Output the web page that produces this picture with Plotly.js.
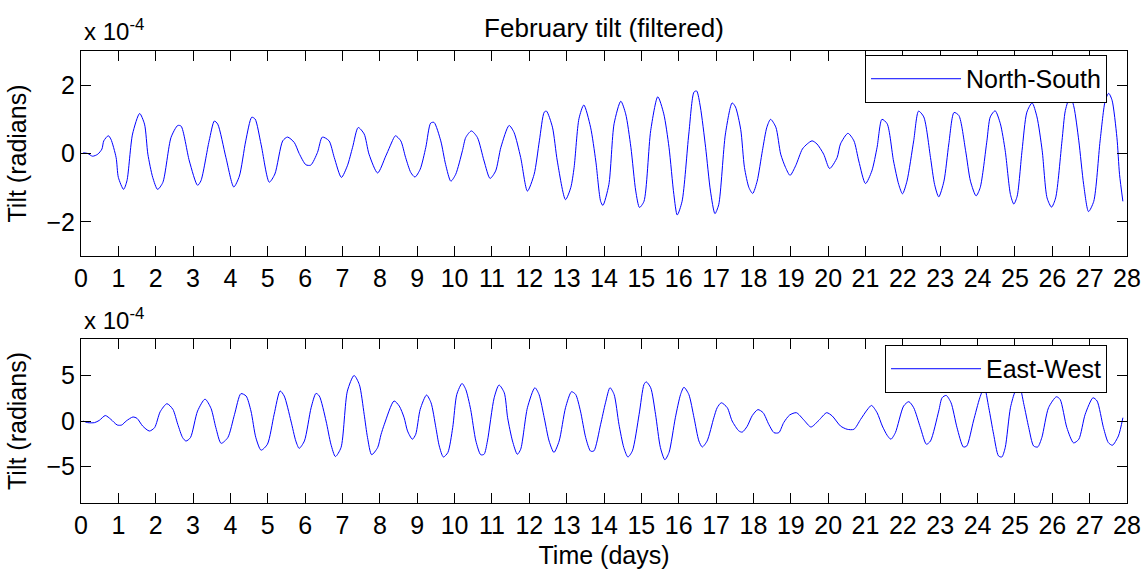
<!DOCTYPE html>
<html>
<head>
<meta charset="utf-8">
<script src="https://cdn.plot.ly/plotly-3.0.1.min.js"></script>
<style>
  html, body { margin: 0; padding: 0; background: #fff; }
  #chart { width: 1146px; height: 574px; }
</style>
</head>
<body>
<div id="chart"></div>
<script>
// Filtered tilt records for February, in units of 1e-4 radians.
const nsDays = [0.06,0.18,0.31,0.45,0.56,0.61,0.73,0.80,0.94,1.00,1.14,1.23,1.38,1.57,1.70,1.79,1.92,2.05,2.19,2.41,2.59,2.68,2.90,3.12,3.21,3.43,3.57,3.66,3.88,4.09,4.24,4.41,4.57,4.66,4.82,5.04,5.19,5.40,5.53,5.71,5.84,6.02,6.15,6.33,6.46,6.64,6.78,6.97,7.13,7.27,7.42,7.58,7.71,7.94,8.16,8.38,8.42,8.56,8.69,8.83,8.94,9.08,9.23,9.36,9.45,9.63,9.76,9.90,10.03,10.21,10.30,10.45,10.61,10.79,10.95,11.10,11.24,11.46,11.59,11.77,11.95,12.13,12.27,12.40,12.46,12.62,12.75,12.97,13.11,13.20,13.33,13.46,13.64,13.78,13.91,13.97,14.13,14.27,14.45,14.58,14.72,14.85,14.95,15.07,15.25,15.44,15.60,15.74,15.87,15.96,16.09,16.27,16.41,16.48,16.58,16.72,16.85,16.97,17.07,17.25,17.43,17.52,17.66,17.76,17.88,17.98,18.10,18.24,18.36,18.46,18.60,18.73,18.86,18.98,19.13,19.31,19.44,19.57,19.70,19.88,20.04,20.24,20.33,20.53,20.69,20.82,21.00,21.17,21.31,21.44,21.58,21.75,21.89,21.99,22.11,22.29,22.42,22.56,22.74,22.85,22.96,23.10,23.23,23.37,23.50,23.68,23.81,23.96,24.07,24.25,24.34,24.47,24.61,24.74,24.88,24.97,25.06,25.19,25.32,25.46,25.59,25.73,25.86,25.98,26.09,26.26,26.35,26.48,26.58,26.71,26.84,26.97,27.11,27.28,27.42,27.51,27.60,27.73,27.80,27.89];
const nsTilt = [0.02,0.00,-0.08,-0.02,0.13,0.37,0.52,0.42,-0.12,-0.70,-1.05,-0.80,0.57,1.17,0.86,-0.02,-0.70,-1.05,-0.85,0.47,0.82,0.80,-0.22,-0.93,-0.80,0.37,0.95,0.86,-0.12,-0.98,-0.66,0.37,1.06,1.01,0.27,-0.84,-0.60,0.37,0.48,0.32,0.00,-0.33,-0.34,0.03,0.48,0.37,-0.12,-0.70,-0.36,0.18,0.76,0.57,-0.02,-0.57,-0.07,0.47,0.52,0.37,-0.12,-0.56,-0.69,-0.46,0.18,0.89,0.91,0.37,-0.32,-0.81,-0.61,0.08,0.47,0.66,0.47,-0.22,-0.73,-0.51,0.18,0.82,0.62,-0.12,-1.10,-0.61,0.37,1.21,1.24,0.77,-0.22,-1.35,-1.00,-0.41,1.02,1.42,0.77,-0.22,-1.40,-1.52,-0.91,0.87,1.53,1.16,0.18,-1.10,-1.58,-1.40,0.67,1.66,1.16,0.18,-1.20,-1.80,-1.40,0.57,1.80,1.83,1.36,0.18,-1.10,-1.76,-1.50,0.57,1.48,1.36,0.70,-0.41,-1.00,-1.17,-0.81,0.08,0.77,1.00,0.77,-0.02,-0.41,-0.64,-0.36,0.13,0.28,0.37,0.28,-0.02,-0.44,-0.12,0.28,0.59,0.37,-0.22,-0.88,-0.51,0.18,1.00,0.87,-0.22,-0.91,-1.18,-0.81,0.37,1.24,1.07,-0.12,-0.91,-1.27,-0.81,0.28,1.20,1.11,0.08,-0.81,-1.24,-1.00,0.37,1.07,1.25,0.87,0.08,-1.20,-1.48,-1.25,0.08,1.21,1.48,1.07,0.08,-1.30,-1.57,-1.30,0.37,1.26,1.68,1.36,0.37,-0.91,-1.70,-1.40,0.37,1.56,1.76,1.56,0.47,-0.61,-1.40];

const ewDays = [0.06,0.18,0.36,0.49,0.65,0.80,0.97,1.09,1.21,1.39,1.50,1.65,1.83,1.97,2.12,2.30,2.46,2.59,2.72,2.81,2.93,3.12,3.32,3.48,3.61,3.75,3.93,4.11,4.28,4.42,4.55,4.68,4.82,4.99,5.17,5.33,5.44,5.62,5.75,5.84,5.98,6.16,6.29,6.38,6.56,6.69,6.81,6.96,7.13,7.31,7.45,7.58,7.67,7.78,7.94,8.03,8.12,8.38,8.52,8.65,8.74,8.87,8.96,9.08,9.25,9.37,9.50,9.59,9.70,9.82,9.95,10.06,10.20,10.30,10.43,10.57,10.70,10.79,10.88,11.06,11.19,11.33,11.42,11.55,11.68,11.77,11.95,12.15,12.26,12.40,12.53,12.66,12.80,12.97,13.13,13.24,13.37,13.51,13.64,13.73,13.91,14.04,14.16,14.27,14.40,14.53,14.64,14.76,14.94,15.07,15.13,15.25,15.38,15.51,15.63,15.74,15.91,16.05,16.14,16.27,16.41,16.54,16.63,16.76,16.94,17.03,17.14,17.30,17.43,17.61,17.70,17.83,17.97,18.12,18.26,18.41,18.55,18.68,18.81,18.97,19.15,19.35,19.54,19.75,19.96,20.11,20.33,20.51,20.69,20.87,21.04,21.16,21.31,21.45,21.58,21.68,21.80,22.02,22.16,22.29,22.47,22.63,22.74,22.96,23.05,23.16,23.29,23.45,23.62,23.71,23.89,24.06,24.18,24.30,24.43,24.56,24.65,24.74,24.88,25.01,25.12,25.24,25.37,25.50,25.61,25.72,25.90,26.11,26.21,26.39,26.57,26.71,26.88,27.09,27.20,27.37,27.50,27.61,27.77,27.89];
const ewTilt = [0.00,-0.18,-0.18,0.07,0.60,0.18,-0.44,-0.44,0.00,0.44,0.29,-0.55,-1.10,-0.73,1.02,1.90,1.28,-0.36,-1.82,-2.20,-1.82,1.09,2.40,1.39,-0.73,-2.45,-1.82,0.73,3.00,2.74,1.09,-1.82,-3.20,-2.55,0.73,3.30,2.74,0.00,-2.19,-3.00,-2.19,1.46,3.03,2.74,0.00,-2.55,-3.90,-2.92,3.28,5.00,4.01,0.73,-1.82,-3.70,-2.92,-1.50,-0.36,2.20,1.64,0.36,-1.09,-2.00,-1.46,1.28,2.85,2.00,-0.73,-2.74,-3.95,-3.46,-0.73,2.92,4.12,3.46,1.28,-2.19,-3.70,-3.65,-2.19,2.55,3.95,3.10,0.36,-2.19,-3.65,-3.10,1.46,3.65,2.92,0.36,-2.19,-3.45,-2.19,1.46,3.21,2.92,1.09,-1.82,-3.30,-3.28,-0.36,2.00,3.65,2.92,-0.36,-2.92,-3.95,-3.28,0.73,4.01,4.30,3.65,0.73,-2.92,-4.25,-3.46,0.36,2.92,3.70,2.92,0.36,-2.19,-2.85,-2.19,0.36,1.46,2.00,1.46,0.00,-1.09,-1.22,-0.60,0.60,1.25,0.91,-0.36,-1.28,-1.28,-0.18,0.66,0.91,0.11,-0.66,0.07,0.91,0.55,-0.55,-0.91,-0.91,0.18,1.20,1.71,0.91,-0.55,-1.57,-2.00,-1.28,1.64,2.12,1.46,-0.73,-2.55,-2.19,1.09,2.55,2.81,2.00,-0.73,-2.85,-2.74,0.00,2.55,3.70,1.46,-1.46,-3.83,-3.95,-2.92,1.46,3.28,3.80,1.82,-0.73,-2.74,-2.85,-1.82,1.46,2.66,2.37,-0.73,-2.40,-2.00,0.73,2.55,2.19,-0.73,-2.37,-2.66,-1.64,0.36];

const dayTicks = [0,1,2,3,4,5,6,7,8,9,10,11,12,13,14,15,16,17,18,19,20,21,22,23,24,25,26,27,28];
const nsTicks = [-2, 0, 2];
const ewTicks = [-5, 0, 5];

const FONT = 'Liberation Sans, Arial, Helvetica, sans-serif';
const BLUE = '#0000ff';

const traces = [
  {
    x: nsDays, y: nsTilt, xaxis: 'x', yaxis: 'y',
    type: 'scatter', mode: 'lines', name: 'North-South',
    line: {color: BLUE, width: 1, shape: 'spline', smoothing: 0.7},
    legend: 'legend'
  },
  {
    x: ewDays, y: ewTilt, xaxis: 'x2', yaxis: 'y2',
    type: 'scatter', mode: 'lines', name: 'East-West',
    line: {color: BLUE, width: 1, shape: 'spline', smoothing: 0.7},
    legend: 'legend2'
  }
];

const axisStyle = {
  showline: true, linecolor: '#000', linewidth: 1, mirror: 'ticks',
  ticks: 'inside', ticklen: 10, tickwidth: 1, tickcolor: '#000',
  showgrid: false, zeroline: false, fixedrange: true,
  tickfont: {family: FONT, size: 25, color: '#000'}
};

const legendStyle = {
  bgcolor: '#fff', bordercolor: '#000', borderwidth: 1,
  font: {family: FONT, size: 25, color: '#000'},
  xref: 'paper', yref: 'paper', xanchor: 'right', yanchor: 'top',
  itemwidth: 90, itemclick: false, itemdoubleclick: false
};

const layout = {
  width: 1146, height: 574,
  margin: {l: 81, r: 19, t: 51, b: 71, pad: 0},
  paper_bgcolor: '#fff', plot_bgcolor: '#fff',
  font: {family: FONT, size: 25, color: '#000'},
  showlegend: true,
  title: {
    text: 'February tilt (filtered)',
    font: {family: FONT, size: 26, color: '#000'},
    xref: 'paper', x: 0.5, xanchor: 'center',
    yref: 'container', y: 1 - 28 / 574, yanchor: 'middle'
  },
  xaxis: Object.assign({}, axisStyle, {
    domain: [0, 1], range: [0, 28], anchor: 'y', tickvals: dayTicks
  }),
  yaxis: Object.assign({}, axisStyle, {
    domain: [0.5465, 1], range: [-3, 3], anchor: 'x', tickvals: nsTicks,
    title: {text: 'Tilt (radians)', font: {family: FONT, size: 25, color: '#000'}, standoff: 12}
  }),
  xaxis2: Object.assign({}, axisStyle, {
    domain: [0, 1], range: [0, 28], anchor: 'y2', tickvals: dayTicks,
    title: {text: 'Time (days)', font: {family: FONT, size: 25, color: '#000'}, standoff: 8}
  }),
  yaxis2: Object.assign({}, axisStyle, {
    domain: [0, 0.3628], range: [-9, 9], anchor: 'x2', tickvals: ewTicks,
    title: {text: 'Tilt (radians)', font: {family: FONT, size: 25, color: '#000'}, standoff: 12}
  }),
  legend: Object.assign({}, legendStyle, {x: 0.9809, y: 0.9912}),
  legend2: Object.assign({}, legendStyle, {x: 0.9809, y: 0.3496}),
  annotations: [
    {
      text: 'x 10<sup>-4</sup>', showarrow: false,
      xref: 'paper', yref: 'paper', x: 0.0013, y: 1.047,
      xanchor: 'left', yanchor: 'middle',
      font: {family: FONT, size: 24, color: '#000'}
    },
    {
      text: 'x 10<sup>-4</sup>', showarrow: false,
      xref: 'paper', yref: 'paper', x: 0.0013, y: 0.407,
      xanchor: 'left', yanchor: 'middle',
      font: {family: FONT, size: 24, color: '#000'}
    }
  ]
};

Plotly.newPlot('chart', traces, layout, {displayModeBar: false, staticPlot: true});
</script>
</body>
</html>
